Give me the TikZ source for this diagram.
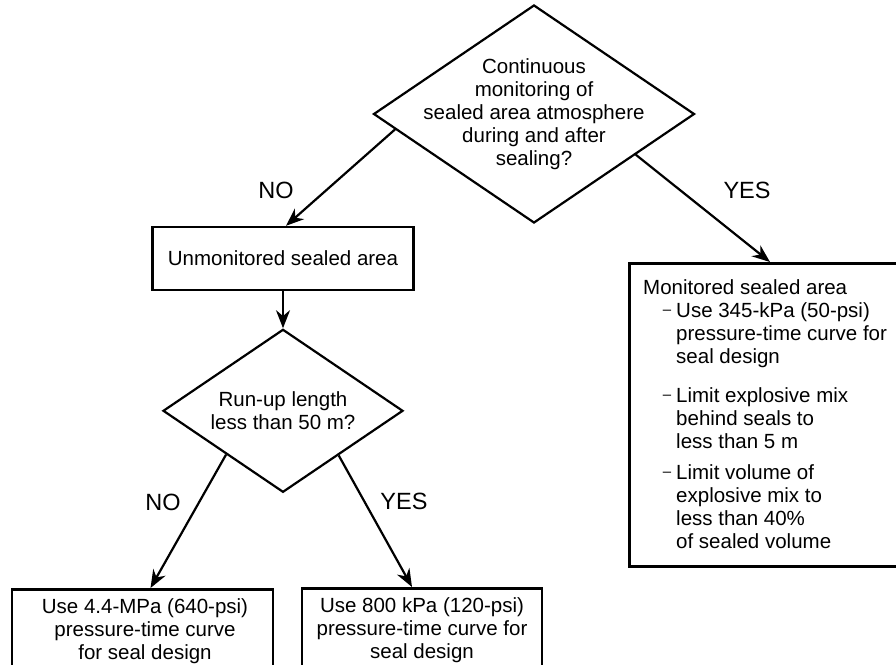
\documentclass[tikz,border=0pt]{standalone}
\usepackage{fontspec}
\setmainfont{Liberation Sans}
\usepackage{tikz}
\usetikzlibrary{positioning,calc,shapes.geometric,arrows.meta}

\tikzset{
	box/.style={draw=black,line width=2.4pt,inner sep=0pt},
	decision/.style={diamond,draw=black,line width=2.2pt,inner sep=0pt},
	flow/.style={-{Stealth[length=18pt,width=14pt]},line width=2.2pt},
	lbl/.style={font=\fontsize{23.5}{28}\selectfont,inner sep=0pt},
	txt/.style={inner sep=0pt,anchor=base west,align=left},
}
\newcommand{\bdash}{\llap{\raisebox{2.5pt}{\fontsize{15}{15}\selectfont\textendash}\hspace{5pt}}}

\begin{document}
\begin{tikzpicture}[x=1pt,y=-1pt,font=\fontsize{20.5}{23}\selectfont]
		\path[use as bounding box,clip] (0,0) rectangle (896,664);
		
		\node[decision,minimum width=321pt,minimum height=218pt] (q1) at (534,114) {};
		\node[align=center,inner sep=0pt] (q1t) at (q1.center) {Continuous\\monitoring of\\sealed area atmosphere\\during and after\\sealing?};
		
		\node[box,minimum width=261pt,minimum height=63pt] (um) at (283,258.5) {Unmonitored sealed area};
		\node[box,line width=2.8pt,anchor=north west,minimum width=300pt,minimum height=303pt] (mon) at (628,262) {};
		
		\node[decision,minimum width=240pt,minimum height=163pt,below=37pt of um.south,anchor=north] (q2) {};
		\node[align=center,inner sep=0pt] (q2t) at (q2.center) {Run-up length\\less than 50 m?};
		
		\node[box,line width=2.8pt,anchor=north,minimum width=261pt,inner ysep=9pt,align=center] (b1) at (142.5,588) {\hspace*{5pt}Use 4.4-MPa (640-psi)\\\hspace*{5pt}pressure-time curve\\\hspace*{5pt}for seal design};
		\node[box,line width=2.8pt,anchor=north,minimum width=240pt,inner ysep=9pt,align=center] (b2) at (422,587) {Use 800 kPa (120-psi)\\pressure-time curve for\\seal design};
		
		\node[txt] (m0) at (643,294) {Monitored sealed area};
		\node[txt] (m1) at (676,363) {\bdash Use 345-kPa (50-psi)\\pressure-time curve for\\seal design};
		\node[txt] (m2) at (676,448) {\bdash Limit explosive mix\\behind seals to\\less than 5 m};
		\node[txt] (m3) at (676,548) {\bdash Limit volume of\\explosive mix to\\less than 40\%\\of sealed volume};
		
		\coordinate (q1no) at ($(q1.west)!0.14!(q1.south)$);
		\coordinate (q1yes) at ($(q1.east)!0.37!(q1.south)$);
		\coordinate (q2no) at ($(q2.west)!0.53!(q2.south)$);
		\coordinate (q2yes) at ($(q2.east)!0.54!(q2.south)$);
		
		\draw[flow] (q1no)--($(um.north)+(3,0)$);
		\draw[flow] (q1yes)--($(mon.north west)+(142,0)$);
		\draw[flow] (um.south)--(q2.north);
		\draw[flow] (q2no)--($(b1.north)+(8,0)$);
		\draw[flow] (q2yes)--($(b2.north)+(-10,0)$);
		
		\node[lbl] (no1) at (276,190) {NO};
		\node[lbl] (yes1) at (747,190) {YES};
		\node[lbl] (no2) at (163,502) {NO};
		\node[lbl] (yes2) at (404,501) {YES};
	\end{tikzpicture}
\end{document}
